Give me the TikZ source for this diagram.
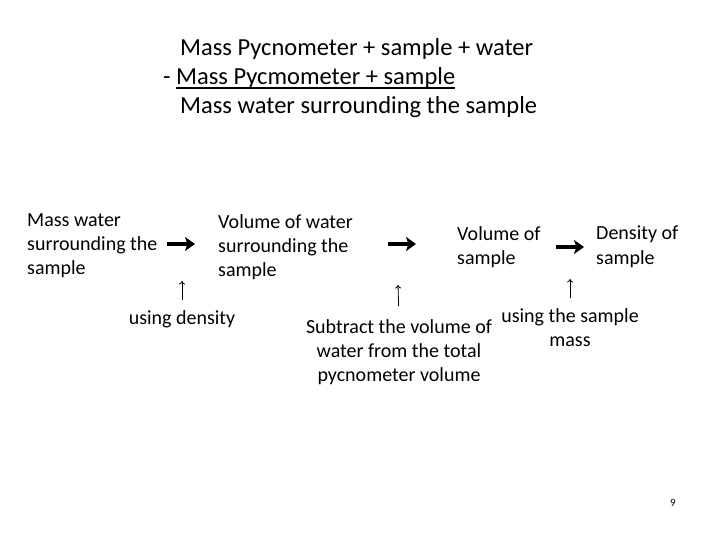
\documentclass[tikz,border=0pt]{standalone}
\usepackage{fontspec}
\setmainfont{Carlito}
\usetikzlibrary{arrows.meta}

\begin{document}
\begin{tikzpicture}[x=1pt, y=-1pt,
    txt/.style={inner sep=0pt, align=left, font=\fontsize{20}{24.4}\selectfont},
    ctxt/.style={inner sep=0pt, align=center, anchor=north, font=\fontsize{20}{24.4}\selectfont},
    toptxt/.style={inner sep=0pt, anchor=base west, font=\fontsize{24.5}{29.3}\selectfont},
    bigarrow/.style={line width=3.4pt, -{Stealth[length=10pt, width=14pt, inset=2.5pt]}},
    uparrow/.style={line width=0.8pt, -{To[length=3.5pt, width=6pt]}}]
    \useasboundingbox (0,0) rectangle (720,540);

    % Subtraction at the top
    \node[toptxt] (total) at (180,56) {Mass Pycnometer + sample + water};
    \node[toptxt] (minus) at (163,85) {-};
    \node[toptxt] (pyc) at (176,85) {Mass Pycmometer + sample};
    \draw[line width=1.4pt] ([yshift=-3pt]pyc.base west) -- ([yshift=-3pt]pyc.base east);
    \node[toptxt] (water) at (180,114) {Mass water surrounding the sample};

    % Steps
    \node[txt, anchor=north west] (mass) at (27,213) {Mass water\\surrounding the\\sample};
    \node[txt, anchor=north west] (volwater) at (218,214) {Volume of water\\surrounding the\\sample};
    \node[txt, anchor=north west] (volsample) at (457,226) {Volume of\\sample};
    \node[txt, anchor=north west] (density) at (596,226) {Density of\\sample};

    % Arrows between the steps
    \coordinate (a1) at (167,244);
    \coordinate (b1) at (195,244);
    \coordinate (a2) at (388,244);
    \coordinate (b2) at (416,244);
    \coordinate (a3) at (556,247);
    \coordinate (b3) at (584,247);
    \draw[bigarrow] (a1) -- (b1);
    \draw[bigarrow] (a2) -- (b2);
    \draw[bigarrow] (a3) -- (b3);

    % How each step is done
    \node[ctxt] (dens) at (182,310) {using density};
    \node[ctxt] (subtract) at (399,319) {Subtract the volume of\\water from the total\\pycnometer volume};
    \node[ctxt] (usemass) at (570,308) {using the sample\\mass};

    \coordinate (t1) at (182,281);
    \coordinate (t2) at (398,285);
    \coordinate (t3) at (570,279);
    \draw[uparrow, shorten <=10pt] (dens.north) -- (t1);
    \draw[uparrow, shorten <=13pt] (subtract.north) -- (t2);
    \draw[uparrow, shorten <=10pt] (usemass.north) -- (t3);

    % Slide number
    \node[inner sep=0pt, font=\fontsize{11}{13}\selectfont] (page) at (673,503) {9};
\end{tikzpicture}
\end{document}
